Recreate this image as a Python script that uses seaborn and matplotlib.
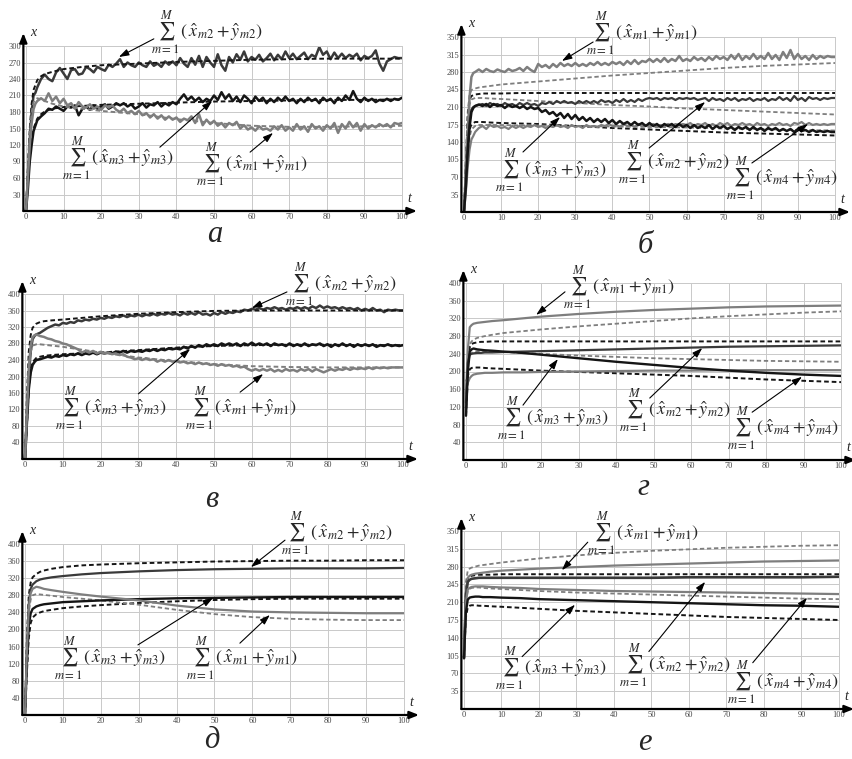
import numpy as np
import matplotlib
matplotlib.use('Agg')
import matplotlib.pyplot as plt
import seaborn as sns

sns.set_style('white')
plt.rcParams['font.family'] = ['Liberation Serif', 'DejaVu Serif']
plt.rcParams['mathtext.fontset'] = 'stix'

W, H = 853, 759

# time grids
t_fine = [0, 0.5, 1, 1.5, 2, 2.5, 3] + list(range(4, 101))
t_coarse = [0, 0.5, 1, 1.5, 2, 3, 4, 5, 7, 10, 15, 20, 30, 40, 50, 60, 70, 80, 90, 100]

# ---- panel а ----
a_m2_sim = [0, 60, 130, 180, 210, 215, 225,
            240, 248, 240, 236, 252, 260, 250, 240, 256, 258,
            248, 250, 262, 258, 252, 262, 258, 255, 266, 262,
            268, 276, 262, 270, 265, 262, 270, 265, 262, 272,
            264, 268, 262, 272, 266, 272, 265, 278, 268, 262,
            278, 266, 282, 262, 280, 270, 262, 285, 265, 255,
            280, 270, 285, 275, 290, 272, 280, 275, 284, 272,
            278, 286, 274, 284, 276, 290, 278, 286, 276, 282,
            288, 276, 284, 280, 298, 284, 290, 276, 288, 278,
            286, 278, 284, 280, 286, 274, 282, 278, 282, 292,
            268, 255, 272, 276, 280, 278, 278]
a_m2_mod = [0, 80, 150, 195, 220, 238, 245, 249, 253, 258, 262, 265, 268, 271, 273, 275, 276, 277, 277, 277]
a_m3_sim = [0, 40, 90, 120, 145, 155, 165,
            172, 178, 186, 184, 190, 186, 182, 190, 188, 192,
            174, 186, 190, 184, 192, 186, 190, 194, 186, 190,
            196, 192, 196, 190, 194, 186, 190, 196, 188, 194,
            192, 198, 190, 196, 192, 198, 194, 204, 212, 202,
            208, 200, 206, 198, 204, 200, 210, 202, 216, 204,
            212, 200, 208, 198, 210, 204, 196, 208, 200, 206,
            196, 204, 198, 206, 200, 208, 200, 204, 196, 204,
            198, 206, 200, 204, 196, 206, 200, 204, 196, 206,
            200, 210, 202, 218, 204, 198, 206, 200, 204, 198,
            202, 200, 204, 200, 204, 202, 206]
a_m3_mod = [0, 50, 100, 130, 150, 168, 176, 181, 186, 189, 191, 193, 195, 197, 199, 200, 201, 202, 202, 203]
a_m1_sim = [0, 60, 120, 160, 185, 195, 200,
            205, 200, 214, 200, 208, 196, 204, 192, 196, 186,
            198, 190, 188, 194, 186, 190, 184, 192, 188, 192,
            184, 180, 186, 178, 182, 176, 182, 174, 178, 170,
            176, 168, 174, 166, 172, 166, 170, 162, 168, 165,
            172, 160, 176, 156, 166, 158, 164, 155, 160, 152,
            160, 156, 162, 150, 156, 148, 152, 146, 154, 148,
            150, 146, 154, 148, 156, 146, 152, 146, 158, 148,
            154, 144, 158, 150, 154, 146, 156, 150, 160, 142,
            158, 150, 162, 152, 160, 146, 158, 150, 156, 152,
            158, 154, 158, 152, 160, 158, 160]
a_m1_mod = [0, 70, 140, 180, 198, 205, 203, 200, 195, 190, 186, 182, 176, 167, 160, 155, 153, 153, 154, 155]

# ---- panel б ----
b_m1_sim = [0, 80, 160, 230, 270, 278, 280,
            285, 280, 286, 282, 280, 285, 282, 280, 286, 282,
            284, 288, 282, 290, 284, 280, 296, 290, 294, 288,
            296, 290, 298, 292, 296, 292, 298, 292, 296, 292,
            298, 294, 300, 294, 298, 294, 300, 296, 300, 294,
            302, 296, 304, 296, 302, 300, 306, 300, 306, 300,
            308, 300, 306, 302, 312, 302, 306, 302, 310, 304,
            308, 302, 310, 304, 312, 306, 310, 304, 314, 306,
            316, 304, 312, 306, 316, 306, 312, 306, 318, 306,
            314, 304, 320, 308, 324, 306, 316, 306, 312, 304,
            314, 306, 312, 308, 312, 310, 310]
b_m2_sim = [0, 60, 130, 180, 205, 210, 212,
            214, 216, 212, 218, 214, 216, 212, 218, 214, 216,
            212, 218, 214, 218, 214, 216, 212, 218, 216, 220,
            216, 222, 218, 222, 218, 220, 216, 222, 218, 222,
            218, 222, 218, 224, 220, 222, 218, 224, 220, 226,
            220, 224, 220, 226, 222, 226, 228, 226, 228, 224,
            228, 226, 228, 224, 228, 226, 228, 226, 228, 224,
            226, 228, 222, 228, 224, 226, 222, 228, 224, 228,
            222, 226, 224, 228, 222, 226, 224, 228, 222, 226,
            224, 230, 224, 228, 222, 232, 224, 228, 222, 230,
            226, 228, 224, 228, 226, 228, 228]
b_m3_sim = [0, 50, 120, 170, 200, 208, 212,
            215, 212, 216, 210, 216, 212, 214, 208, 214, 210,
            212, 208, 212, 206, 210, 206, 208, 200, 204, 196,
            200, 192, 198, 188, 196, 186, 194, 184, 190, 182,
            188, 180, 186, 180, 186, 178, 184, 176, 182, 176,
            180, 174, 180, 174, 178, 172, 178, 172, 176, 170,
            176, 172, 176, 170, 176, 170, 174, 168, 174, 168,
            172, 168, 174, 166, 172, 168, 172, 166, 170, 164,
            170, 166, 170, 164, 170, 164, 168, 162, 168, 164,
            168, 162, 166, 162, 166, 160, 166, 162, 164, 160,
            164, 160, 162, 160, 162, 160, 160]
b_m4_sim = [0, 40, 90, 125, 145, 152, 160,
            168, 172, 166, 174, 170, 172, 168, 170, 166, 172,
            168, 172, 168, 172, 170, 174, 170, 172, 168, 172,
            170, 174, 170, 172, 168, 174, 170, 172, 168, 174,
            170, 172, 170, 174, 172, 176, 172, 174, 170, 176,
            172, 174, 170, 176, 172, 174, 172, 176, 172, 174,
            172, 176, 172, 176, 174, 176, 174, 178, 172, 176,
            174, 178, 172, 176, 172, 178, 174, 178, 172, 176,
            174, 178, 174, 176, 172, 178, 174, 176, 172, 176,
            174, 178, 174, 176, 172, 178, 176, 180, 174, 178,
            174, 176, 174, 176, 174, 176, 176]
b_mod_1 = [0, 100, 200, 235, 244, 247, 249, 250, 252, 255, 258, 261, 267, 273, 278, 283, 288, 292, 295, 298]
b_mod_2 = [0, 100, 190, 225, 232, 235, 236, 237, 237, 237, 238, 238, 238, 238, 238, 238, 238, 238, 238, 238]
b_mod_3 = [0, 90, 180, 215, 225, 228, 228, 228, 227, 226, 224, 222, 218, 214, 211, 207, 204, 201, 198, 195]
b_mod_4 = [0, 70, 140, 165, 175, 180, 180, 180, 179, 178, 177, 176, 172, 168, 165, 162, 159, 157, 155, 153]
b_mod_5 = [0, 60, 120, 150, 165, 172, 174, 174, 174, 174, 173, 173, 172, 171, 170, 169, 167, 166, 164, 163]

# ---- panel в ----
c_m2_sim = [0, 100, 200, 260, 290, 298, 302,
            306, 312, 318, 322, 326, 324, 330, 328, 332, 330,
            336, 334, 338, 336, 340, 338, 342, 340, 344, 342,
            346, 344, 348, 344, 348, 346, 350, 346, 350, 348,
            352, 348, 352, 350, 354, 350, 352, 348, 354, 350,
            354, 350, 356, 350, 352, 348, 354, 350, 356, 352,
            356, 354, 358, 356, 362, 360, 364, 362, 366, 362,
            366, 364, 368, 364, 366, 362, 366, 364, 368, 364,
            368, 364, 370, 366, 372, 366, 370, 366, 368, 364,
            368, 364, 366, 362, 366, 360, 364, 360, 366, 360,
            362, 356, 362, 360, 362, 360, 360]
c_m2_mod = [0, 150, 260, 300, 318, 328, 332, 334, 336, 338, 342, 346, 352, 356, 359, 360, 360, 360, 360, 360]
c_m3_sim = [0, 90, 170, 210, 228, 235, 240,
            242, 245, 248, 246, 250, 248, 252, 250, 254, 252,
            256, 252, 256, 254, 258, 254, 258, 256, 258, 256,
            260, 258, 262, 258, 262, 260, 262, 260, 264, 262,
            266, 262, 266, 264, 268, 266, 268, 266, 272, 268,
            274, 270, 276, 272, 278, 274, 278, 274, 280, 276,
            280, 276, 280, 274, 280, 276, 282, 276, 280, 276,
            280, 274, 280, 276, 278, 274, 280, 274, 278, 274,
            280, 274, 278, 276, 280, 274, 278, 272, 278, 274,
            280, 274, 278, 272, 278, 274, 278, 274, 278, 272,
            276, 274, 278, 274, 276, 274, 276]
c_m3_mod = [0, 80, 170, 215, 235, 245, 248, 250, 252, 254, 256, 258, 264, 270, 274, 276, 277, 277, 276, 276]
c_m1_sim = [0, 110, 220, 275, 295, 300, 302,
            298, 296, 292, 290, 286, 284, 280, 278, 274, 270,
            266, 258, 262, 258, 262, 256, 260, 256, 258, 254,
            256, 252, 254, 248, 246, 242, 244, 240, 244, 240,
            242, 236, 240, 236, 240, 236, 238, 234, 236, 232,
            234, 230, 234, 230, 232, 228, 230, 226, 230, 226,
            228, 224, 226, 222, 224, 218, 214, 218, 214, 218,
            214, 218, 212, 216, 212, 218, 214, 216, 212, 218,
            214, 218, 212, 218, 214, 210, 214, 218, 214, 218,
            216, 220, 216, 220, 218, 220, 218, 222, 218, 222,
            220, 222, 220, 222, 222, 222, 222]
c_m1_mod = [0, 120, 220, 260, 275, 278, 278, 277, 275, 272, 265, 258, 246, 237, 230, 225, 223, 222, 222, 222]

# ---- panel г ----
d_m1_sim = [150, 250, 300, 305, 308, 310, 311, 312, 314, 316, 320, 324, 330, 335, 339, 342, 345, 347, 348, 349]
d_m1_mod = [120, 230, 262, 268, 272, 276, 278, 280, 283, 287, 291, 295, 302, 308, 314, 320, 325, 329, 333, 336]
d_m2_sim = [130, 220, 238, 240, 241, 242, 242, 243, 243, 244, 245, 246, 248, 250, 252, 254, 256, 257, 258, 259]
d_m2_mod = [110, 220, 255, 262, 264, 266, 267, 267, 268, 268, 268, 268, 268, 268, 268, 268, 268, 268, 268, 268]
d_m3_sim = [100, 200, 245, 250, 252, 250, 249, 248, 247, 245, 242, 238, 230, 222, 215, 208, 202, 197, 193, 190]
d_m3_mod = [110, 210, 238, 242, 244, 246, 246, 246, 245, 244, 242, 240, 236, 233, 230, 228, 226, 224, 223, 222]
d_m4_sim = [180, 175, 185, 190, 193, 195, 196, 197, 197, 198, 198, 199, 200, 201, 202, 202, 203, 203, 203, 203]
d_m4_mod = [100, 190, 205, 208, 209, 209, 209, 208, 207, 206, 204, 202, 199, 196, 193, 190, 186, 182, 179, 176]

# ---- panel д ----
e_m2_sim = [0, 150, 260, 295, 305, 313, 317, 319, 322, 325, 329, 332, 336, 339, 341, 342, 343, 343, 343, 344]
e_m2_mod = [0, 180, 280, 310, 322, 330, 335, 338, 342, 346, 350, 352, 355, 357, 359, 360, 361, 361, 362, 362]
e_m3_sim = [0, 120, 210, 238, 248, 254, 257, 259, 261, 264, 266, 268, 271, 273, 274, 275, 276, 276, 276, 276]
e_m3_mod = [0, 100, 180, 215, 228, 236, 240, 243, 246, 250, 254, 257, 262, 266, 269, 271, 272, 272, 272, 272]
e_m1_sim = [0, 150, 250, 285, 295, 300, 298, 295, 292, 288, 282, 277, 268, 256, 247, 242, 240, 239, 238, 238]
e_m1_mod = [0, 150, 240, 270, 280, 283, 282, 281, 279, 276, 272, 268, 258, 246, 236, 229, 225, 223, 222, 222]

# ---- panel е ----
f_m1_sim = [100, 230, 258, 262, 264, 266, 267, 268, 270, 272, 274, 276, 279, 282, 284, 286, 288, 290, 291, 292]
f_m1_mod = [110, 250, 272, 276, 278, 280, 282, 283, 285, 288, 292, 296, 302, 307, 311, 314, 317, 319, 321, 322]
f_m2_sim = [100, 220, 250, 254, 256, 257, 258, 258, 258, 258, 258, 258, 258, 258, 258, 259, 259, 259, 259, 260]
f_m2_mod = [100, 230, 256, 260, 262, 263, 264, 264, 264, 265, 265, 265, 265, 265, 265, 265, 265, 265, 265, 265]
f_m4_sim = [100, 210, 235, 238, 240, 241, 241, 241, 240, 239, 238, 236, 234, 232, 231, 230, 229, 228, 227, 226]
f_m4_mod = [100, 210, 232, 236, 238, 239, 239, 238, 237, 236, 234, 232, 229, 227, 225, 223, 221, 219, 217, 216]
f_m3_sim = [100, 190, 215, 219, 220, 221, 221, 220, 220, 219, 218, 216, 214, 212, 210, 208, 206, 204, 203, 201]
f_m3_mod = [100, 180, 200, 203, 204, 204, 203, 203, 202, 201, 199, 197, 193, 190, 187, 184, 181, 179, 177, 175]

BLACK = '#151515'
DARK = '#3a3a3a'
GRAY = '#7e7e7e'
SOLID = '-'
DASH = (0, (2.4, 1.5))


def label(k):
    return r'$\sum_{m{=}1}^{M}\,(\,\hat{x}_{m%d}+\hat{y}_{m%d})$' % (k, k)


# pixel frame of every panel: x of t=0, x of t=100, y of value 0, y of top value
panels = [
    dict(letter='а', pix=(26, 402, 211, 46), ymax=300, ystep=30, lpos=(215, 242),
         lines=[(t_fine, a_m2_sim, DARK, SOLID, 1.8), (t_coarse, a_m2_mod, BLACK, DASH, 1.4),
                (t_fine, a_m3_sim, BLACK, SOLID, 1.8), (t_coarse, a_m3_mod, BLACK, DASH, 1.4),
                (t_fine, a_m1_sim, GRAY, SOLID, 1.8), (t_coarse, a_m1_mod, GRAY, DASH, 1.4)],
         notes=[(2, (48, 325), (34, 313), (24.7, 280)),
                (3, (24.5, 96), (35.6, 116), (49.5, 200)),
                (1, (60, 85), (59.6, 107), (65.7, 142))]),
    dict(letter='б', pix=(464, 835, 212, 37), ymax=350, ystep=35, lpos=(645, 253),
         lines=[(t_coarse, b_mod_1, GRAY, DASH, 1.3), (t_coarse, b_mod_2, BLACK, DASH, 1.4),
                (t_coarse, b_mod_3, GRAY, DASH, 1.3), (t_coarse, b_mod_4, BLACK, DASH, 1.4),
                (t_coarse, b_mod_5, GRAY, DASH, 1.3),
                (t_fine, b_m1_sim, GRAY, SOLID, 1.8), (t_fine, b_m2_sim, DARK, SOLID, 1.6),
                (t_fine, b_m4_sim, GRAY, SOLID, 1.6), (t_fine, b_m3_sim, BLACK, SOLID, 1.8)],
         notes=[(1, (48, 358), (34.8, 340), (26.4, 302)),
                (3, (23.5, 84), (15.9, 120), (25.9, 190)),
                (2, (56.6, 100), (49.9, 128), (65, 220)),
                (4, (85.7, 68), (77.6, 98), (92.7, 176))]),
    dict(letter='в', pix=(25, 403, 459, 294), ymax=400, ystep=40, lpos=(212, 507),
         lines=[(t_fine, c_m2_sim, DARK, SOLID, 1.8), (t_coarse, c_m2_mod, BLACK, DASH, 1.4),
                (t_fine, c_m3_sim, BLACK, SOLID, 1.9), (t_coarse, c_m3_mod, BLACK, DASH, 1.4),
                (t_fine, c_m1_sim, GRAY, SOLID, 1.8), (t_coarse, c_m1_mod, GRAY, DASH, 1.4)],
         notes=[(2, (83.6, 424), (69.3, 405), (60, 366)),
                (3, (22.7, 124), (30, 158), (43.7, 267)),
                (1, (57, 124), (56.9, 162), (63, 206))]),
    dict(letter='г', pix=(466, 841, 460, 283), ymax=400, ystep=40, lpos=(643, 495),
         lines=[(t_coarse, d_m1_mod, GRAY, DASH, 1.3), (t_coarse, d_m2_mod, BLACK, DASH, 1.4),
                (t_coarse, d_m3_mod, GRAY, DASH, 1.3), (t_coarse, d_m4_mod, BLACK, DASH, 1.4),
                (t_coarse, d_m1_sim, GRAY, SOLID, 1.6), (t_coarse, d_m2_sim, DARK, SOLID, 1.6),
                (t_coarse, d_m4_sim, GRAY, SOLID, 1.6), (t_coarse, d_m3_sim, BLACK, SOLID, 1.7)],
         notes=[(1, (40.8, 391), (26.4, 380), (18.7, 328)),
                (3, (23.2, 95), (15.2, 124), (24.5, 228)),
                (2, (55.7, 113), (49, 140), (63, 253)),
                (4, (84.5, 72), (76.3, 108), (89.6, 188))]),
    dict(letter='д', pix=(25, 404, 715, 544), ymax=400, ystep=40, lpos=(212, 748),
         lines=[(t_coarse, e_m2_mod, BLACK, DASH, 1.4), (t_coarse, e_m3_mod, BLACK, DASH, 1.4),
                (t_coarse, e_m1_mod, GRAY, DASH, 1.3),
                (t_coarse, e_m2_sim, DARK, SOLID, 1.6), (t_coarse, e_m3_sim, BLACK, SOLID, 1.7),
                (t_coarse, e_m1_sim, GRAY, SOLID, 1.6)],
         notes=[(2, (82.3, 426), (68.6, 409), (59.6, 346)),
                (3, (22.4, 133), (29.8, 164), (49.6, 274)),
                (1, (57.3, 133), (56.7, 168), (64.6, 234))]),
    dict(letter='е', pix=(464, 839, 709, 531), ymax=350, ystep=35, lpos=(645, 750),
         lines=[(t_coarse, f_m1_mod, GRAY, DASH, 1.3), (t_coarse, f_m2_mod, BLACK, DASH, 1.4),
                (t_coarse, f_m4_mod, GRAY, DASH, 1.3), (t_coarse, f_m3_mod, BLACK, DASH, 1.4),
                (t_coarse, f_m1_sim, GRAY, SOLID, 1.6), (t_coarse, f_m2_sim, DARK, SOLID, 1.9),
                (t_coarse, f_m4_sim, GRAY, SOLID, 1.6), (t_coarse, f_m3_sim, BLACK, SOLID, 1.7)],
         notes=[(1, (47.7, 346), (33, 328), (26.1, 273)),
                (3, (23.2, 81), (15.5, 103), (29.6, 205)),
                (2, (56.3, 87), (49.3, 113), (64.3, 250)),
                (4, (85, 52), (77, 91), (91.5, 219))]),
]

fig = plt.figure(figsize=(W / 100, H / 100), dpi=100)
XMIN = -0.7

for p in panels:
    x0, x100, y0, ytop = p['pix']
    ppu = (x100 - x0) / 100
    left = x0 + XMIN * ppu
    wpx, hpx = x100 - left, y0 - ytop
    ax = fig.add_axes([left / W, 1 - y0 / H, wpx / W, hpx / H])

    for t, v, c, ls, lw in p['lines']:
        sns.lineplot(x=t, y=v, ax=ax, color=c, linestyle=ls, linewidth=lw,
                     estimator=None, sort=False, legend=False)

    ax.set_xlim(XMIN, 100)
    ax.set_ylim(0, p['ymax'])
    ax.set_xticks(range(0, 101, 10))
    ax.set_yticks(np.arange(p['ystep'], p['ymax'] + 1, p['ystep']))
    ax.set_xlabel('')
    ax.set_ylabel('')
    ax.grid(True, color='#c9c9c9', linewidth=0.7)
    ax.set_axisbelow(True)
    ax.tick_params(length=0, labelsize=6, colors='#444444', pad=1.5)
    for s in ['top', 'right']:
        ax.spines[s].set_color('#c9c9c9')
        ax.spines[s].set_linewidth(0.7)
    for s in ['left', 'bottom']:
        ax.spines[s].set_visible(False)

    # axis arrows
    arr = dict(arrowstyle='-|>,head_length=0.55,head_width=0.22', lw=1.6, color='black',
               shrinkA=0, shrinkB=0)
    ax.annotate('', xy=(0, 1 + 13 / hpx), xytext=(0, 0), xycoords='axes fraction',
                arrowprops=arr, annotation_clip=False)
    ax.annotate('', xy=(1 + 15 / wpx, 0), xytext=(0, 0), xycoords='axes fraction',
                arrowprops=arr, annotation_clip=False)
    ax.annotate('x', xy=(0, 1), xycoords='axes fraction', xytext=(5, 5),
                textcoords='offset points', style='italic', fontsize=10, ha='left', va='bottom')
    ax.annotate('t', xy=(1, 0), xycoords='axes fraction', xytext=(4, 4),
                textcoords='offset points', style='italic', fontsize=10, ha='left', va='bottom')

    # formula labels with arrows
    for k, txt, tail, tip in p['notes']:
        ax.annotate('', xy=tip, xytext=tail,
                    arrowprops=dict(arrowstyle='-|>,head_length=0.6,head_width=0.2', lw=0.8,
                                    color='black', shrinkA=0, shrinkB=0),
                    annotation_clip=False)
        ax.text(txt[0], txt[1], label(k), ha='center', va='center', fontsize=13,
                clip_on=False)

    fig.text(p['lpos'][0] / W, 1 - p['lpos'][1] / H, p['letter'], style='italic',
             fontsize=22, ha='center', va='baseline')

fig.savefig('out.png', dpi=100)
